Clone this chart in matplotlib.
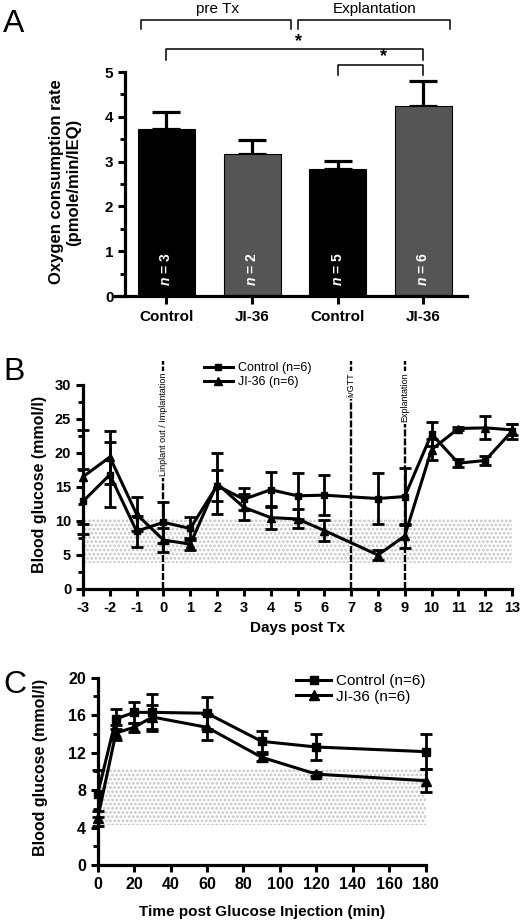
import numpy as np
import matplotlib
matplotlib.use('Agg')
import matplotlib.pyplot as plt
from matplotlib.ticker import MultipleLocator
from matplotlib.lines import Line2D

plt.rcParams['font.family'] = ['Liberation Sans', 'DejaVu Sans']
plt.rcParams['font.weight'] = 'bold'
plt.rcParams['axes.unicode_minus'] = False
plt.rcParams['mathtext.fontset'] = 'custom'
plt.rcParams['mathtext.it'] = 'Liberation Sans:italic:bold'
plt.rcParams['mathtext.rm'] = 'Liberation Sans:bold'
plt.rcParams['hatch.linewidth'] = 1.3

# --- panel A: oxygen consumption
groups = ['Control', 'JI-36', 'Control', 'JI-36']
ocr_mean = [3.73, 3.17, 2.84, 4.24]
ocr_sem = [0.38, 0.31, 0.17, 0.56]
n_islets = [3, 2, 5, 6]
bar_colors = ['black', '#555555', 'black', '#555555']

# --- panel B: blood glucose over days
days = [-3, -2, -1, 0, 1, 2, 3, 4, 5, 6, 8, 9, 10, 11, 12, 13]
ctrl_b = [12.9, 16.8, 8.5, 9.8, 8.9, 15.2, 13.2, 14.6, 13.7, 13.8, 13.3, 13.6, 22.8, 18.5, 18.9, 23.2]
ctrl_b_err = [4.8, 4.8, 2.3, 3.0, 1.7, 2.3, 1.6, 2.6, 3.4, 2.9, 3.7, 4.2, 1.8, 0.6, 0.7, 1.1]
ji_b = [16.5, 19.4, 11.0, 7.2, 6.6, 15.5, 12.0, 10.5, 10.3, 8.6, 5.0, 7.8, 20.5, 23.6, 23.7, 23.4]
ji_b_err = [6.9, 3.9, 2.5, 1.8, 0.9, 4.5, 1.9, 1.7, 1.4, 1.5, 0.8, 1.7, 1.5, 0.2, 1.7, 0.8]
events = [(0, 'Linplant out / Implantation'), (7, 'ivGTT'), (9, 'Explantation')]

# --- panel C: ivGTT
minutes = [0, 10, 20, 30, 60, 90, 120, 180]
ctrl_c = [7.6, 15.6, 16.3, 16.3, 16.2, 13.2, 12.6, 12.1]
ctrl_c_err = [2.5, 1.1, 1.1, 2.0, 1.7, 1.1, 1.4, 1.9]
ji_c = [5.0, 14.1, 14.7, 15.8, 14.7, 11.5, 9.7, 9.0]
ji_c_err = [0.8, 0.8, 0.5, 1.3, 1.4, 0.4, 0.2, 1.2]

W, H = 532, 923
fig = plt.figure(figsize=(W / 100, H / 100), dpi=100)


def box(l, t, r, b):
    return [l / W, 1 - b / H, (r - l) / W, (b - t) / H]


def style(ax, fs):
    for s in ['top', 'right']:
        ax.spines[s].set_visible(False)
    for s in ['left', 'bottom']:
        ax.spines[s].set_linewidth(2.3)
    ax.tick_params(which='major', direction='out', length=5, width=2.2, labelsize=fs)
    ax.tick_params(which='minor', direction='out', length=3.5, width=2.0)


def legend_handles(ms):
    return [Line2D([], [], color='black', lw=2.2, marker='s', ms=ms),
            Line2D([], [], color='black', lw=2.2, marker='^', ms=ms + 1)]


# ---------------- A
axA = fig.add_axes(box(115, 72, 467, 296))
x = np.arange(len(groups))
axA.bar(x, ocr_mean, width=0.665, color=bar_colors, edgecolor='black', linewidth=0.8, zorder=2)
axA.errorbar(x, ocr_mean, yerr=[np.zeros(len(x)), ocr_sem], fmt='none', ecolor='black',
             elinewidth=2.3, capsize=10, capthick=2.3, zorder=1)
for i, n in enumerate(n_islets):
    axA.text(i, 0.6, '$n$ = %d' % n, rotation=90, ha='center', va='center',
             color='white', fontsize=10)
axA.set_xlim(-0.6, 3.51)
axA.set_ylim(0, 5)
style(axA, 11)
axA.spines['left'].set_position(('data', -0.48))
axA.yaxis.set_major_locator(MultipleLocator(1))
axA.yaxis.set_minor_locator(MultipleLocator(0.5))
axA.set_xticks(x)
axA.set_xticklabels(groups, fontsize=11)
axA.tick_params(axis='x', length=6, pad=4)

kw = dict(color='black', lw=1.1, clip_on=False)
axA.plot([-0.3, -0.3, 1.46, 1.46], [5.96, 6.16, 6.16, 5.96], **kw)
axA.plot([1.54, 1.54, 3.31, 3.31], [5.96, 6.16, 6.16, 5.96], **kw)
axA.text(0.595, 6.25, 'pre Tx', ha='center', va='bottom', fontsize=11, fontweight='normal')
axA.text(2.43, 6.25, 'Explantation', ha='center', va='bottom', fontsize=11, fontweight='normal')
axA.plot([0, 0, 3, 3], [5.27, 5.51, 5.51, 5.27], **kw)
axA.plot([2, 2, 3, 3], [4.93, 5.16, 5.16, 4.93], **kw)
axA.text(1.54, 5.5, '*', ha='center', va='bottom', fontsize=13)
axA.text(2.53, 5.15, '*', ha='center', va='bottom', fontsize=13)
fig.text(65 / W, 1 - 182 / H, 'Oxygen consumption rate\n(pmole/min/IEQ)', rotation=90,
         ha='center', va='center', multialignment='center', fontsize=12, linespacing=1.15)
fig.text(3 / W, 1 - 24 / H, 'A', fontsize=23, fontweight='normal', va='center')

# ---------------- B
axB = fig.add_axes(box(83, 385, 512, 589))
axB.fill_between([-3, 13], 3.8, 10.5, facecolor='none', edgecolor='#c4c4c4',
                 hatch='....', linewidth=0, zorder=0)
for xv, lab in events:
    axB.plot([xv, xv], [0, 33.5], ls=(0, (3, 0.8)), lw=1.7, color='black', clip_on=False, zorder=1)
    axB.text(xv, 31.8, lab, rotation=90, ha='center', va='top', fontsize=6.5,
             fontweight='normal', zorder=2,
             bbox=dict(facecolor='white', edgecolor='none', pad=1.2))
ebk = dict(color='black', lw=2.2, elinewidth=2.0, capsize=4, capthick=2.0, zorder=3)
c1 = axB.errorbar(days, ctrl_b, yerr=ctrl_b_err, marker='s', ms=5, **ebk)
c2 = axB.errorbar(days, ji_b, yerr=ji_b_err, marker='^', ms=6, **ebk)
for c in (c1, c2):
    for art in c.get_children():
        art.set_clip_on(False)
axB.set_xlim(-3, 13)
axB.set_ylim(0, 30)
style(axB, 10.5)
axB.xaxis.set_major_locator(MultipleLocator(1))
axB.yaxis.set_major_locator(MultipleLocator(5))
axB.yaxis.set_minor_locator(MultipleLocator(2.5))
axB.legend(legend_handles(4.5), ['Control (n=6)', 'JI-36 (n=6)'], loc='upper left',
           bbox_to_anchor=(204 / W, 1 - 362 / H), bbox_transform=fig.transFigure,
           frameon=False, prop={'weight': 'normal', 'size': 9}, handlelength=2.3,
           handletextpad=0.4, labelspacing=0.15, borderpad=0, borderaxespad=0)
fig.text(297 / W, 1 - 628 / H, 'Days post Tx', ha='center', va='center', fontsize=11)
fig.text(40 / W, 1 - 484 / H, 'Blood glucose (mmol/l)', rotation=90, ha='center', va='center', fontsize=11.5)
fig.text(3 / W, 1 - 372 / H, 'B', fontsize=23, fontweight='normal', va='center')

# ---------------- C
axC = fig.add_axes(box(97.7, 677.7, 425.7, 865))
axC.fill_between([0, 180], 4.3, 10.2, facecolor='none', edgecolor='#c4c4c4',
                 hatch='....', linewidth=0, zorder=0)
d1 = axC.errorbar(minutes, ctrl_c, yerr=ctrl_c_err, marker='s', ms=5.5, **ebk)
d2 = axC.errorbar(minutes, ji_c, yerr=ji_c_err, marker='^', ms=6.5, **ebk)
for c in (d1, d2):
    for art in c.get_children():
        art.set_clip_on(False)
axC.set_xlim(0, 180)
axC.set_ylim(0, 20)
style(axC, 11.5)
axC.xaxis.set_major_locator(MultipleLocator(20))
axC.yaxis.set_major_locator(MultipleLocator(4))
axC.yaxis.set_minor_locator(MultipleLocator(2))
axC.legend(legend_handles(5.5), ['Control (n=6)', 'JI-36 (n=6)'], loc='upper left',
           bbox_to_anchor=(296 / W, 1 - 674 / H), bbox_transform=fig.transFigure,
           frameon=False, prop={'weight': 'normal', 'size': 11}, handlelength=2.3,
           handletextpad=0.3, labelspacing=0.1, borderpad=0, borderaxespad=0)
fig.text(262 / W, 1 - 912 / H, 'Time post Glucose Injection (min)', ha='center', va='center', fontsize=11)
fig.text(41 / W, 1 - 767 / H, 'Blood glucose (mmol/l)', rotation=90, ha='center', va='center', fontsize=11.5)
fig.text(3 / W, 1 - 685 / H, 'C', fontsize=23, fontweight='normal', va='center')

fig.savefig('out.png', dpi=100)
